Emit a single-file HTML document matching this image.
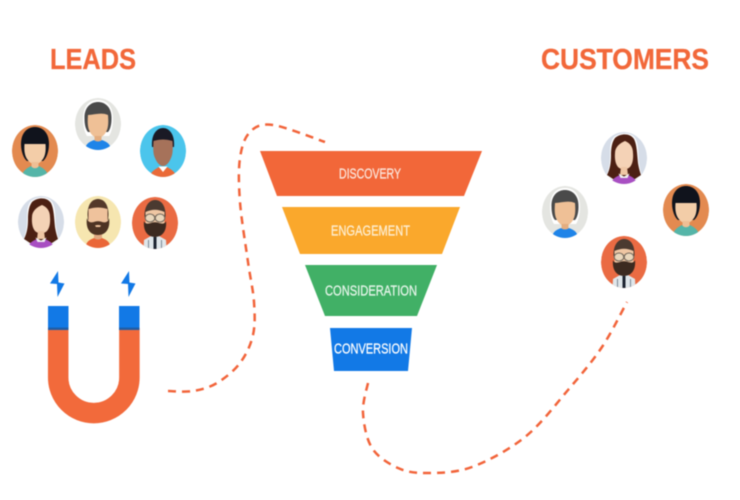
<!DOCTYPE html>
<html>
<head>
<meta charset="utf-8">
<style>
html,body{margin:0;padding:0;background:#fff;width:740px;height:500px;overflow:hidden}
svg{display:block;filter:blur(.45px)}
</style>
</head>
<body>
<svg width="740" height="500" viewBox="0 0 740 500" xmlns="http://www.w3.org/2000/svg">
<defs>
<clipPath id="c"><ellipse cx="0" cy="0" rx="23" ry="26"/></clipPath>
<g id="gray" clip-path="url(#c)">
  <ellipse rx="23" ry="26" fill="#e4e5e1"/>
  <path d="M-15 -5C-15 -19 -8 -24 0 -24C8 -24 15 -19 15 -5C15 3 13 9 11 12L-11 12C-13 9 -15 3 -15 -5Z" fill="#fff"/>
  <path d="M-13.500 -5C-14 -17 -7 -22 0 -22C7 -22 14 -17 13.500 -5C13.500 1 12 6 10 8L-10 8C-12 6 -13.500 1 -13.500 -5Z" fill="#4a4a4a"/>
  <path d="M-10 -9C-4 -9 3 -12 10 -9C10.500 -3 10.500 2 9 6C7 11 3 14 0 14C-3 14 -7 11 -9 6C-10.500 2 -10.500 -3 -10 -9Z" fill="#efc096"/>
  <rect x="-3.500" y="12" width="7" height="6" fill="#e4ad7f"/>
  <path d="M-13 27C-13 20 -9 18 -4 16C-2 18 2 18 4 16C9 18 13 20 13 27Z" fill="#1f84e8"/>
</g>
<g id="orange" clip-path="url(#c)">
  <ellipse rx="23" ry="26" fill="#e38a50"/>
  <path d="M-14 -7C-14 -19 -7 -24 0 -24C7 -24 14 -19 14 -7C14 1 11 8 8 10L-8 10C-11 8 -14 1 -14 -7Z" fill="#10131c"/>
  <path d="M-10.500 -7L10.500 -7C11 -1 10.500 4 8 8C5 12 3 13 0 13C-3 13 -5 12 -8 8C-10.500 4 -11 -1 -10.500 -7Z" fill="#f3cda8"/>
  <rect x="-3.500" y="11" width="7" height="7" fill="#efbf95"/>
  <path d="M-13 27C-13 21 -10 18 -4 15C-2 18 2 18 4 15C10 18 13 21 13 27Z" fill="#55b5a8"/>
</g>
<g id="blue" clip-path="url(#c)">
  <ellipse rx="23" ry="26" fill="#4bc5ec"/>
  <path d="M-11 -4C-12 -17 -6 -23 0 -23C6 -23 12 -17 11 -4Z" fill="#1a1a25"/>
  <path d="M-9.500 -10C-3 -12 3 -12 9.500 -10C10 -3 10 3 8 7C6 12 3 15 0 15C-3 15 -6 12 -8 7C-10 3 -10 -3 -9.500 -10Z" fill="#a6725a"/>
  <path d="M-13 27C-13 21 -9 19 -4 16L0 20L4 16C9 19 13 21 13 27Z" fill="#ea6a38"/>
  <path d="M-4.500 15.500L0 21L4.500 15.500Z" fill="#fff"/>
</g>
<g id="lilac" clip-path="url(#c)">
  <ellipse rx="23" ry="26" fill="#d6dde8"/>
  <path d="M-10 -21C-3 -26 7 -26 11 -20C15 -14 14 -4 15 5C16 11 17 15 18 18L11 22L-11 22L-18 18C-15 12 -14 5 -14 -3C-14 -10 -14 -16 -10 -21Z" fill="#fff"/>
  <path d="M-9 -20C-3 -25 6 -25 10 -19C13 -13 13 -4 14 5C15 11 16 14 17 17L11 21L-11 21L-17 17C-14 11 -13 5 -13 -3C-13 -10 -12 -16 -9 -20Z" fill="#4c2013"/>
  <path d="M1 -17C6 -15 9 -11 9 -5C9.500 1 8.500 6 6 9C3 12 -3 12 -6 9C-8.500 6 -9.500 1 -9 -5C-9 -11 -4 -15 1 -17Z" fill="#f4d2b6"/>
  <path d="M-3 9L3 9L4 17L-4 17Z" fill="#efc6a4"/>
  <path d="M-13 27C-13 22 -9 19 -4 17L0 19L4 17C9 19 13 22 13 27Z" fill="#a84fc2"/>
  <path d="M-5.500 15.500L0 18.500L5.500 15.500L3.500 20L-3.500 20Z" fill="#f0f0f0"/>
</g>
<g id="cream" clip-path="url(#c)">
  <ellipse rx="23" ry="26" fill="#f6e6b0"/>
  <rect x="-4" y="8" width="8" height="11" fill="#dfa880"/>
  <path d="M-12.500 27C-12.500 20 -9 18 -4 16C-2 18 2 18 4 16C9 18 12.500 20 12.500 27Z" fill="#ea6638"/>
  <path d="M-10.500 -7C-10.500 -19 -5 -23 0 -23C5 -23 10.500 -19 10.500 -7L10 -2L-10 -2Z" fill="#54392a"/>
  <path d="M-9.500 -13C-3 -15 3 -15 9.500 -13L9.500 2L-9.500 2Z" fill="#efc29c"/>
  <path d="M-11 -4C-10 0 -8 1 -4 0C-2 -1 2 -1 4 0C8 1 10 0 11 -4C12.500 5 9 13 0 13C-9 13 -12.500 5 -11 -4Z" fill="#4e3323"/>
  <path d="M-3 3.500C-1 2.800 1 2.800 3 3.500L2 5L-2 5Z" fill="#efc29c"/>
</g>
<g id="red" clip-path="url(#c)">
  <ellipse rx="23" ry="26" fill="#ea6b43"/>
  <path d="M-11.500 27L-11 17L-4 13L4 13L11 17L11.500 27Z" fill="#dfe6ea"/>
  <rect x="-1.500" y="14" width="3" height="12" fill="#1d2430"/>
  <rect x="-7" y="17" width="1" height="9" fill="#7b8a96"/>
  <rect x="6" y="17" width="1" height="9" fill="#7b8a96"/>
  <path d="M-10.500 -6C-11 -18 -5 -23 0 -23C6 -23 11 -18 10.500 -6Z" fill="#4b3a30"/>
  <path d="M-9.500 -11C-3 -14 3 -14 9.500 -11L9.500 3L-9.500 3Z" fill="#efc6a3"/>
  <path d="M-11 -2C-10 1 -7 1 -4 0C-2 -1 2 -1 4 0C7 1 10 1 11 -2C12 7 8 14 0 14C-8 14 -12 7 -11 -2Z" fill="#3c2a20"/>
  <g fill="#e9d6bb" stroke="#75695c" stroke-width="1.100"><ellipse cx="-5" cy="-5" rx="4.800" ry="4"/><ellipse cx="5" cy="-5" rx="4.800" ry="4"/></g>
</g>
</defs>

<rect width="740" height="500" fill="#fff"/>

<text x="50" y="69" font-family="Liberation Sans, sans-serif" font-size="29" font-weight="700" fill="#f2683a" stroke="#f2683a" stroke-width=".3" textLength="86" lengthAdjust="spacingAndGlyphs">LEADS</text>
<text x="541" y="69" font-family="Liberation Sans, sans-serif" font-size="29" font-weight="700" fill="#f2683a" stroke="#f2683a" stroke-width=".3" textLength="168" lengthAdjust="spacingAndGlyphs">CUSTOMERS</text>

<use href="#orange" transform="translate(35 151)"/>
<use href="#gray" transform="translate(98 124)"/>
<use href="#blue" transform="translate(163 151)"/>
<use href="#lilac" transform="translate(41 222)"/>
<use href="#cream" transform="translate(98 222)"/>
<use href="#red" transform="translate(155 223)"/>

<use href="#lilac" transform="translate(624 158)"/>
<use href="#gray" transform="translate(565 212)"/>
<use href="#orange" transform="translate(686 210)"/>
<use href="#red" transform="translate(624 262)"/>

<path d="M58.200 328V377.500A35.600 35.600 0 0 0 129.400 377.500V328" fill="none" stroke="#f26a3b" stroke-width="20.500"/>
<rect x="48" y="306" width="20.500" height="22" fill="#1279e6"/>
<rect x="119" y="306" width="20.500" height="22" fill="#1279e6"/>
<rect x="48" y="327.500" width="20.500" height="2.500" fill="#1f5ea8"/>
<rect x="119" y="327.500" width="20.500" height="2.500" fill="#1f5ea8"/>
<path d="M58 271L50 283.500L57 284L57.500 297L64.500 283.500L58.500 282.500Z" fill="#1279e6"/>
<path d="M129 271L121 283.500L128 284L128.500 297L135.500 283.500L129.500 282.500Z" fill="#1279e6"/>

<polygon points="260,151 482,151 464,196 277,196" fill="#f26739"/>
<polygon points="282,207 460,207 442,254 300,254" fill="#faa82c"/>
<polygon points="305,265 437,265 417,316 325,316" fill="#41b066"/>
<polygon points="330,328 412,328 408,371 334,371" fill="#1279e6"/>

<g font-family="Liberation Sans, sans-serif" font-size="14.500" stroke-width=".25">
<text x="339" y="178.500" textLength="62" lengthAdjust="spacingAndGlyphs" fill="#fbe6dc" stroke="#fbe6dc">DISCOVERY</text>
<text x="331" y="235.500" textLength="79" lengthAdjust="spacingAndGlyphs" fill="#fdeed2" stroke="#fdeed2">ENGAGEMENT</text>
<text x="325" y="295.500" textLength="92" lengthAdjust="spacingAndGlyphs" fill="#e6f5ea" stroke="#e6f5ea">CONSIDERATION</text>
<text x="334" y="353.500" textLength="74" lengthAdjust="spacingAndGlyphs" fill="#fff" stroke="#fff">CONVERSION</text>
</g>

<g fill="none" stroke="#f2643a" stroke-width="2.500" stroke-dasharray="8 6">
<path d="M168 391C172 391 184.800 392.300 193 391C201.200 389.700 209.200 387.700 217 383C224.800 378.300 234 371 240 363C246 355 250.700 345.200 253 335C255.300 324.800 254.800 314.200 254 302C253.200 289.800 250.300 278.700 248 262C245.700 245.300 241.300 219.300 240 202C238.700 184.700 238.300 169.700 240 158C241.700 146.300 244.500 137.500 250 132C255.500 126.500 260.500 123.300 273 125C285.500 126.700 316 139 325 142"/>
<path d="M368 383C367 388 362.300 402.200 363 413C363.700 423.800 366.200 438.800 372 448C377.800 457.200 388.700 463.800 398 468C407.300 472.200 415.700 473.200 428 473C440.300 472.800 455.800 473 472 467C488.200 461 509 449.800 525 437C541 424.200 555.200 405 568 390C580.800 375 592.200 361.700 602 347C611.800 332.300 622.800 309.500 627 302"/>
</g>
</svg>
</body>
</html>
